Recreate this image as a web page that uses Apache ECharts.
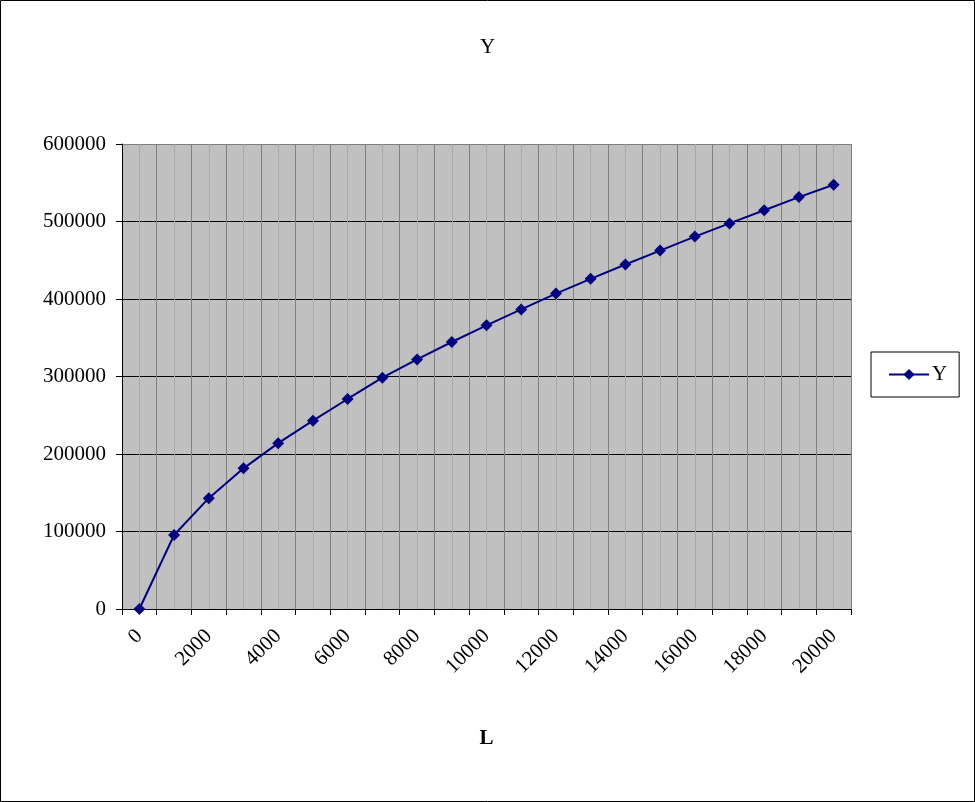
<!DOCTYPE html>
<html>
<head>
<meta charset="utf-8">
<style>
html,body{margin:0;padding:0;background:#fff;}
#chart{width:975px;height:802px;}
</style>
<script src="https://cdn.jsdelivr.net/npm/echarts@6/dist/echarts.min.js"></script>
</head>
<body>
<div id="chart"></div>
<script>
const categories = [0,1000,2000,3000,4000,5000,6000,7000,8000,9000,10000,11000,12000,13000,14000,15000,16000,17000,18000,19000,20000];
const yValues = [0,95500,143000,181500,214000,243000,271000,298500,322000,344500,366000,386500,407000,426000,444500,462500,480500,497500,514500,531500,547500];
const seriesName = 'Y';
const chartTitle = 'Y';
const xName = 'L';

const FONT = "'Times New Roman','Liberation Serif',serif";
const DIAMOND = 'path://M0,-1L1,0L0,1L-1,0Z';
const chart = echarts.init(document.getElementById('chart'), null, {renderer:'canvas'});
chart.setOption({
  animation:false,
  backgroundColor:'#ffffff',
  graphic:[{type:'rect',z:100,silent:true,shape:{x:0.5,y:0.5,width:974,height:801},style:{fill:'none',stroke:'#000',lineWidth:1}}],
  title:{text:chartTitle,left:'center',top:32,textStyle:{fontFamily:FONT,fontSize:21,fontWeight:'normal',color:'#000'}},
  legend:{data:[seriesName],left:871,top:352,orient:'vertical',borderColor:'#000',borderWidth:1,padding:[12,12,12,17],itemWidth:40,itemHeight:14,itemGap:5,
    textStyle:{fontFamily:FONT,fontSize:21,color:'#000',padding:[0,0,0,-2]}},
  grid:{left:122,top:144,right:124,bottom:193,show:true,backgroundColor:'#c0c0c0',borderWidth:0},
  xAxis:{type:'category',data:categories,boundaryGap:true,
    name:xName,nameLocation:'middle',nameGap:119,nameTextStyle:{fontFamily:FONT,fontSize:21,fontWeight:'bold',color:'#000'},
    axisLine:{lineStyle:{color:'#000',width:1}},
    axisTick:{show:true,interval:0,length:6,lineStyle:{color:'#000'}},
    axisLabel:{interval:1,rotate:45,margin:24,fontFamily:FONT,fontSize:21,color:'#000'},
    splitLine:{show:true,interval:0,lineStyle:{color:'#808080',width:1}}},
  yAxis:{type:'value',min:0,max:600000,interval:100000,
    axisLine:{show:true,lineStyle:{color:'#000',width:1}},
    axisTick:{show:true,length:6,lineStyle:{color:'#000'}},
    axisLabel:{margin:16,fontFamily:FONT,fontSize:21,color:'#000',formatter:v=>String(v)},
    splitLine:{show:true,lineStyle:{color:['#000','#000','#000','#000','#000','#000','#808080'],width:1}}},
  series:[
    {name:'grid-minor',type:'line',data:categories.map(()=>'-'),z:1,silent:true,
      markLine:{z:1,silent:true,symbol:'none',label:{show:false},animation:false,
        lineStyle:{color:'#a8a8a8',width:1,type:'solid'},
        data:categories.map(c=>({xAxis:String(c)}))}},
    {name:seriesName,type:'line',data:yValues,z:5,symbol:DIAMOND,symbolSize:12,
      lineStyle:{color:'#000080',width:2},itemStyle:{color:'#000080'}}
  ]
});
</script>
</body>
</html>
